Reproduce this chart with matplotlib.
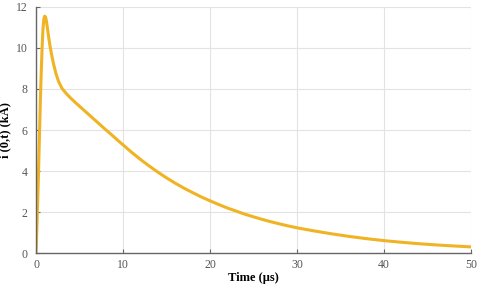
import numpy as np
from matplotlib import pyplot as plt

plt.rcParams['font.family'] = ['Liberation Serif', 'DejaVu Serif']

# 读图得到的数据
time_us = [0, 0.1, 0.2, 0.3, 0.4, 0.5, 0.6, 0.7, 0.8, 0.9, 1.0, 1.1, 1.2, 1.3, 1.4,
           1.5, 1.6, 1.8, 2.0, 2.3, 2.6, 3.0, 3.5, 4.0, 4.5, 5.0, 5.5, 6.0, 6.5,
           7.0, 7.5, 8.0, 8.5, 9.0, 9.5, 10, 11, 12, 13, 14, 15, 16, 17, 18, 19,
           20, 21, 22, 23, 24, 25, 26, 27, 28, 29, 30, 32, 34, 36, 38, 40, 42,
           44, 46, 48, 50]
current_ka = [0, 1.2, 2.6, 4.1, 5.8, 7.4, 8.8, 10.0, 10.9, 11.4, 11.55, 11.5, 11.3,
              11.0, 10.7, 10.4, 10.12, 9.66, 9.25, 8.74, 8.36, 8.02, 7.77, 7.55,
              7.35, 7.16, 6.97, 6.78, 6.59, 6.4, 6.21, 6.02, 5.84, 5.65, 5.46, 5.28,
              4.91, 4.57, 4.25, 3.95, 3.67, 3.41, 3.17, 2.95, 2.74, 2.55, 2.37,
              2.20, 2.05, 1.90, 1.77, 1.645, 1.53, 1.425, 1.325, 1.235, 1.08, 0.94,
              0.815, 0.705, 0.61, 0.53, 0.46, 0.40, 0.35, 0.305]
x_ticks = [0, 10, 20, 30, 40, 50]
y_ticks = [0, 2, 4, 6, 8, 10, 12]

fig = plt.figure(figsize=(4.8, 2.87), dpi=100)
ax = fig.add_axes([0.075, 0.118, 0.906, 0.858])

ax.plot(time_us, current_ka, color='#F0B323', linewidth=2.2,
        solid_capstyle='round', solid_joinstyle='round')

ax.set_xlim(0, 50)
ax.set_ylim(0, 12)
ax.set_xticks(x_ticks)
ax.set_yticks(y_ticks)
ax.grid(True, color='#e3e3e3', linewidth=0.8)
ax.set_axisbelow(True)

for s in ['top', 'right']:
    ax.spines[s].set_visible(False)
for s in ['left', 'bottom']:
    ax.spines[s].set_color('#666666')
    ax.spines[s].set_linewidth(1.0)
ax.tick_params(direction='in', length=3, color='#666666', labelcolor='#555555',
               labelsize=8.5)
ax.tick_params(axis='y', pad=6)
ax.tick_params(axis='x', pad=4)

ax.set_xlabel('Time (μs)', fontsize=9, fontweight='bold', labelpad=1)
ax.set_ylabel('i (0,t) (kA)', fontsize=9, fontweight='bold', labelpad=3)

plt.savefig('out.png', dpi=100)
